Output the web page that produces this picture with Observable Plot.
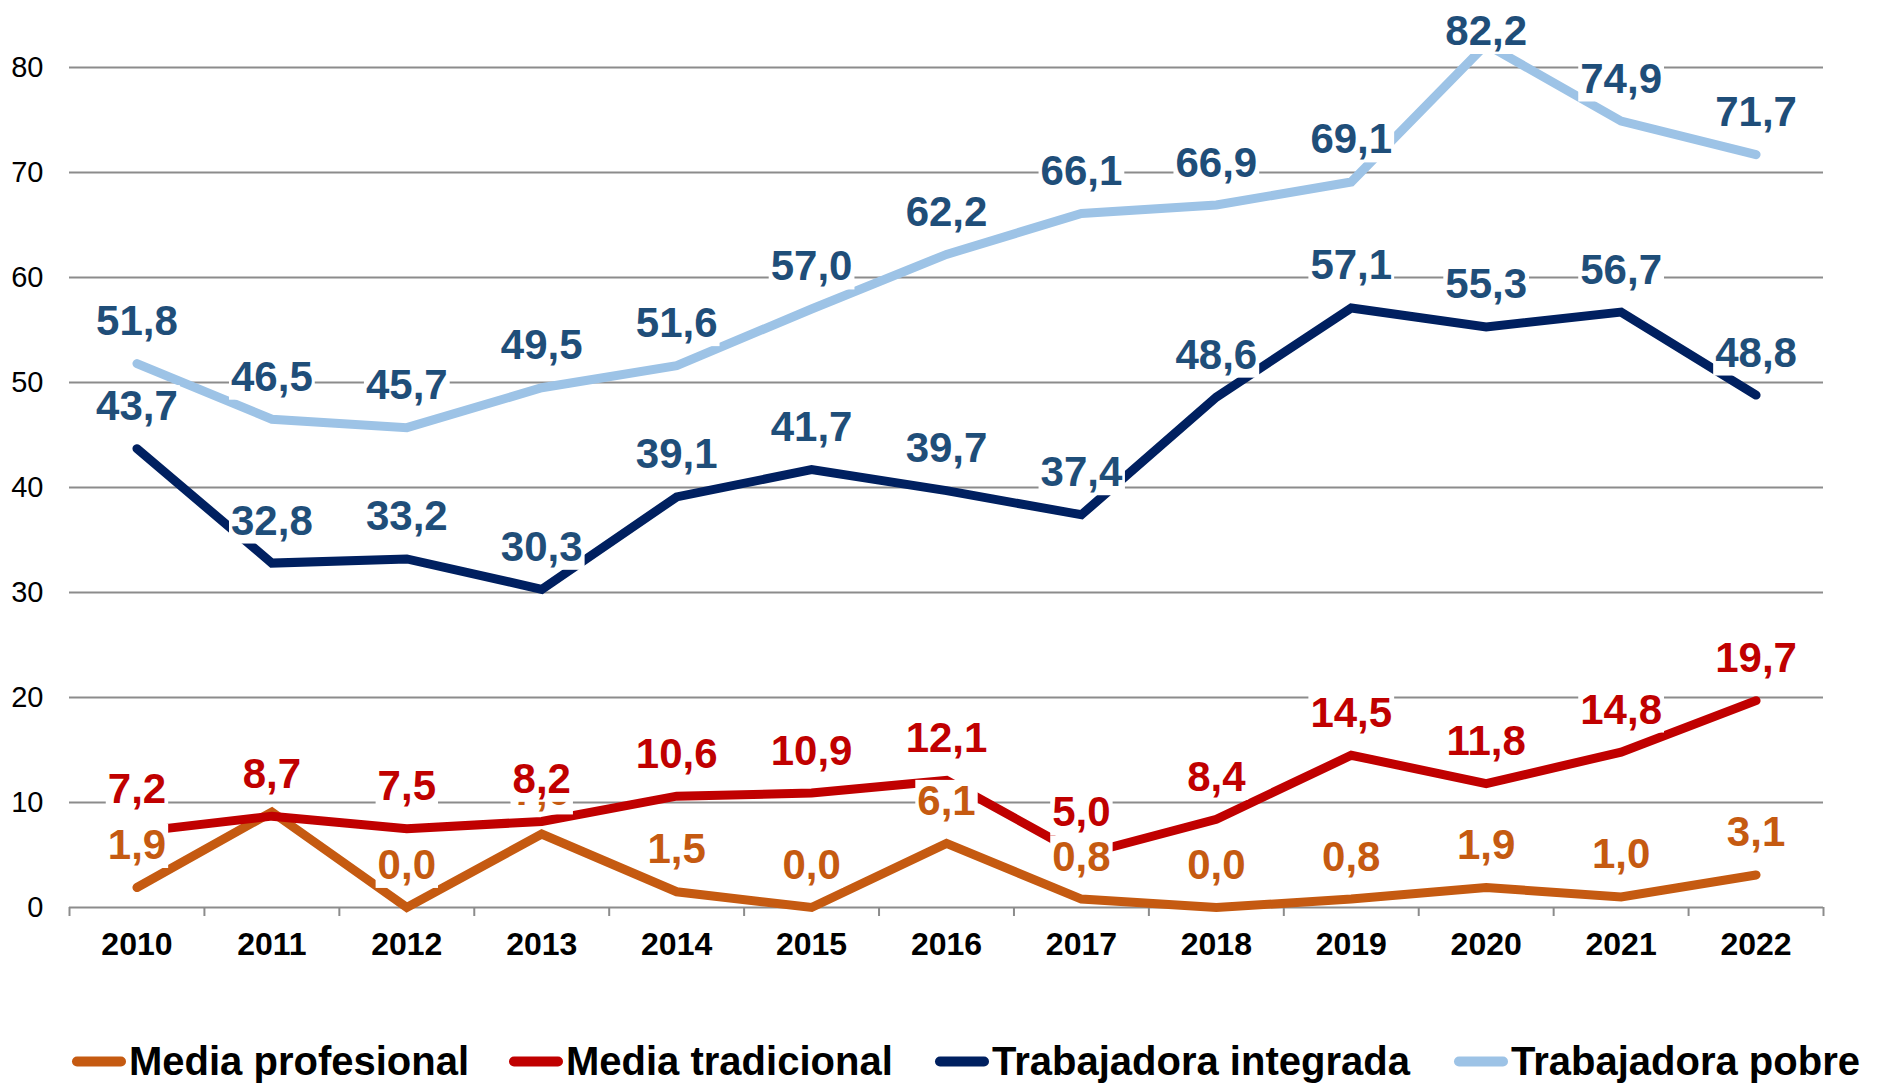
<!DOCTYPE html>
<html>
<head>
<meta charset="utf-8">
<script src="https://cdn.jsdelivr.net/npm/d3@7"></script>
<script src="https://cdn.jsdelivr.net/npm/@observablehq/plot@0.6"></script>
<style>
  html, body { margin: 0; padding: 0; background: #fff; }
  body { width: 1887px; height: 1084px; overflow: hidden; font-family: "Liberation Sans", Arial, sans-serif; }
  #legend { position: relative; height: 94px; }
  .item { position: absolute; top: 71px; display: flex; align-items: center; font-weight: bold; font-size: 40px; color: #000; white-space: nowrap; }
  .sw { width: 54px; height: 10px; border-radius: 5px; margin-right: 3px; }
</style>
</head>
<body>
<div id="chart"></div>
<div id="legend"></div>
<script>
const years = [2010, 2011, 2012, 2013, 2014, 2015, 2016, 2017, 2018, 2019, 2020, 2021, 2022];
const seriesNames = ["Media profesional", "Media tradicional", "Trabajadora integrada", "Trabajadora pobre"];
const mediaProfesional = [1.9, 9.1, 0.0, 7.0, 1.5, 0.0, 6.1, 0.8, 0.0, 0.8, 1.9, 1.0, 3.1];
const mediaTradicional = [7.2, 8.7, 7.5, 8.2, 10.6, 10.9, 12.1, 5.0, 8.4, 14.5, 11.8, 14.8, 19.7];
const trabajadoraIntegrada = [43.7, 32.8, 33.2, 30.3, 39.1, 41.7, 39.7, 37.4, 48.6, 57.1, 55.3, 56.7, 48.8];
const trabajadoraPobre = [51.8, 46.5, 45.7, 49.5, 51.6, 57.0, 62.2, 66.1, 66.9, 69.1, 82.2, 74.9, 71.7];
const yTicks = [0, 10, 20, 30, 40, 50, 60, 70, 80];

const lineColors = ["#C55A11", "#C00000", "#002060", "#9DC3E6"];
const labelColors = ["#C55A11", "#C00000", "#1F4E79", "#1F4E79"];
const allValues = [mediaProfesional, mediaTradicional, trabajadoraIntegrada, trabajadoraPobre];

const rows = seriesNames.map((name, s) => years.map((year, i) => ({series: name, idx: s, year, value: allValues[s][i]})));
const boundaries = [years[0] - 0.5, ...years.map(y => y + 0.5)];
const fmt = v => v.toFixed(1).replace(".", ",");

const marks = [
  Plot.gridY(yTicks.filter(t => t > 0), {stroke: "#8C8C8C", strokeWidth: 2, strokeOpacity: 1}),
  Plot.ruleY([0], {stroke: "#8C8C8C", strokeWidth: 2}),
  Plot.axisX(boundaries, {tickSize: 9, tickFormat: () => "", stroke: "#8C8C8C", strokeWidth: 2, label: null}),
  Plot.axisX(years, {tickSize: 0, tickPadding: 25, tickFormat: d => String(d), fontSize: 32, fontWeight: "bold", fill: "#000", label: null}),
  Plot.axisY(yTicks, {tickSize: 0, tickPadding: 26, fontSize: 29, fill: "#000", label: null})
];
rows.forEach((data, s) => {
  marks.push(Plot.line(data, {x: "year", y: "value", stroke: lineColors[s], strokeWidth: 9, strokeLinecap: "round", strokeLinejoin: "miter", strokeMiterlimit: 4}));
});
rows.forEach((data, s) => {
  marks.push(Plot.text(data, {x: "year", y: "value", text: d => fmt(d.value), dy: -42, fill: labelColors[s], fontSize: 42, fontWeight: "bold"}));
});

const chart = Plot.plot({
  width: 1887,
  height: 990,
  marginLeft: 69,
  marginRight: 64,
  marginTop: 67,
  marginBottom: 83,
  style: {fontFamily: "'Liberation Sans', Arial, sans-serif", background: "#fff", overflow: "visible"},
  x: {type: "linear", domain: [years[0] - 0.5, years[years.length - 1] + 0.5], axis: null},
  y: {domain: [0, 80], axis: null},
  marks
});
document.getElementById("chart").append(chart);

// white label boxes, Excel-style (labels kept inside the chart area)
chart.querySelectorAll('g[aria-label="text"] text').forEach(t => {
  const baseTransform = t.getAttribute("transform") || "";
  const b = t.getBBox();
  const ctm = t.getCTM();
  const pt = chart.createSVGPoint();
  pt.x = b.x; pt.y = b.y;
  const top = pt.matrixTransform(ctm).y;
  const shift = top < 7 ? 7 - top : 0;
  const tf = baseTransform + (shift ? ` translate(0,${shift})` : "");
  if (shift) t.setAttribute("transform", tf);
  const r = document.createElementNS("http://www.w3.org/2000/svg", "rect");
  r.setAttribute("x", b.x - 2);
  r.setAttribute("y", b.y + 3);
  r.setAttribute("width", b.width + 4);
  r.setAttribute("height", b.height - 3);
  r.setAttribute("fill", "#fff");
  if (tf) r.setAttribute("transform", tf);
  t.parentNode.insertBefore(r, t);
});

const legendX = [72, 509, 935, 1454];
const legend = document.getElementById("legend");
seriesNames.forEach((name, s) => {
  const item = document.createElement("div");
  item.className = "item";
  item.style.left = legendX[s] + "px";
  item.style.transform = "translateY(-50%)";
  const sw = document.createElement("div");
  sw.className = "sw";
  sw.style.background = lineColors[s];
  item.append(sw, document.createTextNode(name));
  legend.append(item);
});
</script>
</body>
</html>
